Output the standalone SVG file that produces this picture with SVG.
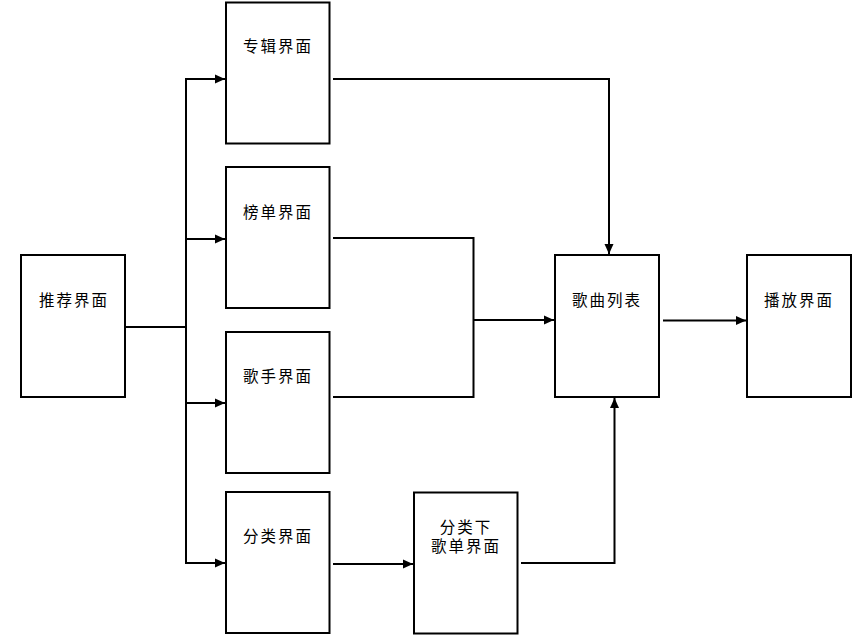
<svg xmlns="http://www.w3.org/2000/svg" width="863" height="638" viewBox="0 0 863 638">
<style>
.box{fill:#fff;stroke:#000;stroke-width:2}
.t{font-family:"Noto Sans CJK SC","Liberation Sans",sans-serif;font-size:15.5px;letter-spacing:2px;fill:#000;text-anchor:middle}
.c{fill:none;stroke:#000;stroke-width:2}
</style>
<defs>
<marker id="a" markerUnits="userSpaceOnUse" markerWidth="10" markerHeight="10" refX="10" refY="5" orient="auto">
<path d="M0,0.5 L10,5 L0,9.5 z" fill="#000"/>
</marker>
</defs>
<g id="connectors">
<path class="c" d="M125,327 H186 V79 H225" marker-end="url(#a)"/>
<path class="c" d="M186,327 V239 H225" marker-end="url(#a)"/>
<path class="c" d="M186,327 V403 H225" marker-end="url(#a)"/>
<path class="c" d="M186,327 V563 H225" marker-end="url(#a)"/>
<path class="c" d="M333,79 H609 V254" marker-end="url(#a)"/>
<path class="c" d="M333,238 H473.5 V397 H333"/>
<path class="c" d="M473.5,320 H554" marker-end="url(#a)"/>
<path class="c" d="M333,564 H413" marker-end="url(#a)"/>
<path class="c" d="M521,563 H614.5 V398" marker-end="url(#a)"/>
<path class="c" d="M663,320.5 H746" marker-end="url(#a)"/>
</g>
<g id="n-recommend"><rect class="box" x="21" y="255" width="104" height="142"/><text class="t" x="74" y="306">推荐界面</text></g>
<g id="n-album"><rect class="box" x="226" y="2.5" width="103.5" height="141"/><text class="t" x="278" y="52">专辑界面</text></g>
<g id="n-rank"><rect class="box" x="226" y="167" width="103.5" height="141"/><text class="t" x="278" y="218">榜单界面</text></g>
<g id="n-singer"><rect class="box" x="226" y="332" width="103.5" height="141"/><text class="t" x="278" y="382">歌手界面</text></g>
<g id="n-category"><rect class="box" x="226" y="492" width="103.5" height="141"/><text class="t" x="278" y="542">分类界面</text></g>
<g id="n-catlist"><rect class="box" x="414" y="492.5" width="103.5" height="141"/><text class="t" x="466" y="533">分类下</text><text class="t" x="466" y="552">歌单界面</text></g>
<g id="n-songs"><rect class="box" x="555" y="255" width="104" height="142"/><text class="t" x="607" y="306">歌曲列表</text></g>
<g id="n-play"><rect class="box" x="747" y="255" width="104" height="142"/><text class="t" x="799" y="306">播放界面</text></g>
</svg>
